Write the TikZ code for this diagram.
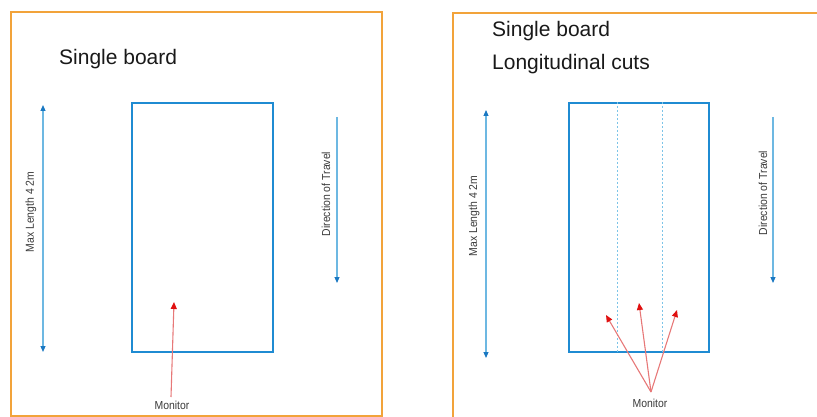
\documentclass[tikz,border=0pt]{standalone}
\usepackage{fontspec}
\setmainfont{Liberation Sans}
\newfontfamily\narrowlabel[FakeStretch=0.9]{Liberation Sans}
\usetikzlibrary{arrows.meta}
\definecolor{frameorange}{HTML}{F2A33A}
\definecolor{boardblue}{HTML}{1F8BD2}
\definecolor{guideblue}{HTML}{6DB8E2}
\definecolor{tipblue}{HTML}{1A78C2}
\definecolor{cutblue}{HTML}{7CC4E8}
\definecolor{monline}{HTML}{E77878}
\definecolor{montip}{HTML}{E01010}
\definecolor{labelgrey}{HTML}{3A3A3A}
\tikzset{
  panel/.style={draw=frameorange, line width=2pt},
  board/.style={draw=boardblue, line width=2.4pt, rectangle, inner sep=0pt},
  cutline/.style={draw=cutblue, line width=0.8pt, dash pattern=on 2pt off 2pt},
  guide/.style={draw=guideblue, line width=1.1pt},
  guidetip/.style={-{Triangle[length=6pt,width=5pt,color=tipblue]}},
  guidetips/.style={{Triangle[length=6pt,width=5pt,color=tipblue]}-{Triangle[length=6pt,width=5pt,color=tipblue]}},
  monarrow/.style={draw=monline, line width=1.1pt, -{Triangle[length=7pt,width=6pt,color=montip]}},
  title/.style={font=\fontsize{21}{25}\selectfont, text=black!90, anchor=base west, inner sep=0pt},
  small/.style={font=\narrowlabel\fontsize{11.6}{13}\selectfont, text=labelgrey, inner sep=1pt},
}
\begin{document}
\begin{tikzpicture}[x=1pt, y=-1pt]
\useasboundingbox (0,0) rectangle (817,417);

% ---------- left panel: single board ----------
\draw[panel] (11,12) rectangle (382,416);
\node[title] (titleA) at (59,65) {Single board};

\node[board, minimum width=141pt, minimum height=249pt] (boardA) at (202.5,227.5) {};

\coordinate (lenAtop) at (43,105);
\coordinate (lenAbot) at (43,352);
\draw[guide, guidetips] (lenAtop) -- (lenAbot);
\node[small, rotate=90] (lenAlabel) at (31,212) {Max Length 4 2m};

\coordinate (dirAtop) at (337,117);
\coordinate (dirAbot) at (337,283);
\draw[guide, guidetip] (dirAtop) -- (dirAbot);
\node[small, rotate=90] (dirAlabel) at (326,194) {Direction of Travel};

\node[small] (monA) at (172,405) {Monitor};
\coordinate (monAfrom) at (171,397);
\coordinate (monAto) at (174,302);
\draw[monarrow] (monAfrom) -- (monAto);

% ---------- right panel: single board with longitudinal cuts ----------
\draw[panel] (817,13) -- (453,13) -- (453,417);
\node[title] (titleB) at (492,37) {Single board};
\node[title] (titleC) at (492,70) {Longitudinal cuts};

\node[board, minimum width=140pt, minimum height=249pt] (boardB) at (639,227.5) {};
\draw[cutline] (boardB.north -| 617,0) -- (boardB.south -| 617,0);
\draw[cutline] (boardB.north -| 662,0) -- (boardB.south -| 662,0);

\coordinate (lenBtop) at (486,110);
\coordinate (lenBbot) at (486,358);
\draw[guide, guidetips] (lenBtop) -- (lenBbot);
\node[small, rotate=90] (lenBlabel) at (474,216) {Max Length 4 2m};

\coordinate (dirBtop) at (773,117);
\coordinate (dirBbot) at (773,283);
\draw[guide, guidetip] (dirBtop) -- (dirBbot);
\node[small, rotate=90] (dirBlabel) at (763,193) {Direction of Travel};

\node[small] (monB) at (650,403) {Monitor};
\coordinate (monBfrom) at (651,392);
\coordinate (monBleft) at (606,315);
\coordinate (monBmid) at (639,303);
\coordinate (monBright) at (677,310);
\draw[monarrow] (monBfrom) -- (monBleft);
\draw[monarrow] (monBfrom) -- (monBmid);
\draw[monarrow] (monBfrom) -- (monBright);
\end{tikzpicture}
\end{document}
